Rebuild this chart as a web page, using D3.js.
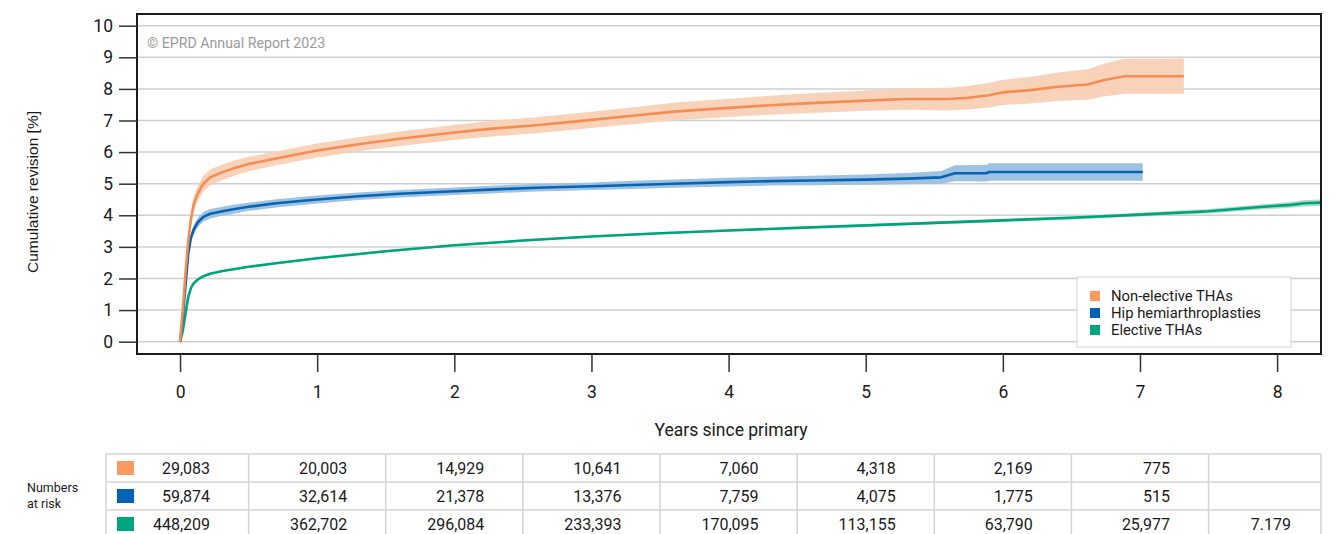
<!DOCTYPE html>
<html>
<head>
<meta charset="utf-8">
<script src="https://cdn.jsdelivr.net/npm/d3@7"></script>
<style>
  body { margin: 0; background: #fff; }
  text { font-family: Roboto, "DejaVu Sans", sans-serif; fill: #1a1a1a; }
</style>
</head>
<body>
<div id="chart"></div>
<script>
// cumulative revision curves
var years = [0, 1, 2, 3, 4, 5, 6, 7, 8];
var seriesNames = ["Non-elective THAs", "Hip hemiarthroplasties", "Elective THAs"];

var nonElecT = [0, 0.02, 0.04, 0.06, 0.08, 0.1, 0.13, 0.17, 0.22, 0.3, 0.4, 0.5, 0.7, 1.0, 1.3, 1.6, 2.0, 2.3, 2.6, 3.0, 3.3, 3.6, 4.0, 4.3, 4.6, 5.0, 5.3, 5.6, 5.75, 5.9, 6.0, 6.2, 6.4, 6.62, 6.74, 6.89, 7.32];
var nonElecV = [0, 1.0, 2.2, 3.2, 3.9, 4.35, 4.7, 5.0, 5.2, 5.35, 5.5, 5.62, 5.8, 6.05, 6.25, 6.42, 6.62, 6.75, 6.85, 7.02, 7.15, 7.28, 7.4, 7.48, 7.55, 7.63, 7.68, 7.68, 7.72, 7.8, 7.89, 7.96, 8.07, 8.14, 8.28, 8.4, 8.4];
var nonElecCI = [0, 0.1, 0.18, 0.22, 0.25, 0.25, 0.25, 0.25, 0.25, 0.25, 0.24, 0.23, 0.22, 0.22, 0.22, 0.23, 0.24, 0.25, 0.25, 0.26, 0.27, 0.28, 0.29, 0.3, 0.31, 0.32, 0.34, 0.36, 0.37, 0.39, 0.4, 0.42, 0.45, 0.48, 0.52, 0.55, 0.56];

var hemiT = [0, 0.02, 0.04, 0.06, 0.08, 0.1, 0.13, 0.17, 0.22, 0.3, 0.4, 0.5, 0.7, 1.0, 1.3, 1.6, 2.0, 2.3, 2.6, 3.0, 3.3, 3.6, 4.0, 4.3, 4.6, 5.0, 5.3, 5.55, 5.65, 5.88, 5.9, 7.02];
var hemiV = [0, 0.8, 1.8, 2.8, 3.3, 3.55, 3.78, 3.95, 4.05, 4.12, 4.2, 4.27, 4.38, 4.5, 4.6, 4.68, 4.76, 4.82, 4.87, 4.92, 4.96, 5.0, 5.05, 5.08, 5.1, 5.13, 5.16, 5.2, 5.33, 5.33, 5.37, 5.37];
var hemiCI = [0, 0.08, 0.12, 0.15, 0.15, 0.15, 0.15, 0.15, 0.15, 0.14, 0.14, 0.13, 0.13, 0.13, 0.12, 0.12, 0.12, 0.12, 0.12, 0.12, 0.13, 0.13, 0.14, 0.14, 0.15, 0.16, 0.18, 0.2, 0.25, 0.26, 0.28, 0.28];

var elecT = [0, 0.02, 0.04, 0.06, 0.08, 0.1, 0.13, 0.17, 0.22, 0.3, 0.4, 0.5, 0.7, 1.0, 1.5, 2.0, 2.5, 3.0, 3.5, 4.0, 4.5, 5.0, 5.5, 6.0, 6.5, 7.0, 7.5, 7.9, 8.1, 8.2, 8.32];
var elecV = [0, 0.35, 0.9, 1.42, 1.7, 1.85, 1.97, 2.07, 2.15, 2.23, 2.3, 2.37, 2.48, 2.64, 2.86, 3.05, 3.2, 3.33, 3.43, 3.52, 3.6, 3.68, 3.76, 3.84, 3.92, 4.02, 4.13, 4.27, 4.33, 4.38, 4.4];
var elecCI = [0, 0.02, 0.02, 0.03, 0.03, 0.03, 0.03, 0.03, 0.03, 0.03, 0.03, 0.03, 0.03, 0.03, 0.03, 0.03, 0.03, 0.03, 0.03, 0.03, 0.03, 0.04, 0.04, 0.05, 0.05, 0.06, 0.07, 0.08, 0.09, 0.1, 0.1];

// numbers at risk per year, text as printed
var riskNonElec = ["29,083", "20,003", "14,929", "10,641", "7,060", "4,318", "2,169", "775", ""];
var riskHemi = ["59,874", "32,614", "21,378", "13,376", "7,759", "4,075", "1,775", "515", ""];
var riskElec = ["448,209", "362,702", "296,084", "233,393", "170,095", "113,155", "63,790", "25,977", "7.179"];

(function() {
	var width = 1335, height = 534;
	var box = { left: 137, right: 1321, top: 14, bottom: 354 };

	var lineColors = ["#f68c52", "#0a63b0", "#00a47c"];
	var bandColors = ["#f9d0b6", "#98bfe1", "#a9dcc8"];
	var keyColors = ["#f99a5e", "#0062b0", "#00a67e"];

	var series = [
		{ t: nonElecT, v: nonElecV, ci: nonElecCI },
		{ t: hemiT, v: hemiV, ci: hemiCI },
		{ t: elecT, v: elecV, ci: elecCI }
	].map(function(s) {
		return s.t.map(function(t, i) { return { t: t, v: s.v[i], lo: s.v[i] - s.ci[i], hi: s.v[i] + s.ci[i] }; });
	});

	var svg = d3.select("#chart").append("svg")
		.attr("width", width)
		.attr("height", height);

	var xScale = d3.scaleLinear().domain([-0.314, 8.32]).range([box.left, box.right]);
	var yScale = d3.scaleLinear().domain([-0.39, 10.37]).range([box.bottom, box.top]);

	// gridlines
	svg.append("g").selectAll("line")
		.data(d3.range(0, 11))
		.enter().append("line")
		.attr("x1", box.left).attr("x2", box.right)
		.attr("y1", function(d) { return yScale(d); })
		.attr("y2", function(d) { return yScale(d); })
		.attr("stroke", "#cfcfcf")
		.attr("stroke-width", 1.5);

	svg.append("text")
		.attr("x", 147).attr("y", 47.5)
		.attr("font-size", 14.2)
		.style("fill", "#9a9a9a")
		.text("\u00a9 EPRD Annual Report 2023");

	svg.append("clipPath").attr("id", "plotclip")
		.append("rect")
		.attr("x", box.left).attr("y", box.top)
		.attr("width", box.right - box.left).attr("height", box.bottom - box.top);

	var plot = svg.append("g").attr("clip-path", "url(#plotclip)");

	var area = d3.area()
		.x(function(d) { return xScale(d.t); })
		.y0(function(d) { return yScale(d.lo); })
		.y1(function(d) { return yScale(d.hi); });

	var line = d3.line()
		.x(function(d) { return xScale(d.t); })
		.y(function(d) { return yScale(d.v); });

	// draw elective first so others sit on top
	[2, 1, 0].forEach(function(i) {
		plot.append("path")
			.attr("d", area(series[i]))
			.attr("fill", bandColors[i])
			.attr("opacity", 0.95);
	});
	[2, 1, 0].forEach(function(i) {
		plot.append("path")
			.attr("d", line(series[i]))
			.attr("fill", "none")
			.attr("stroke", lineColors[i])
			.attr("stroke-width", 2.6)
			.attr("stroke-linejoin", "round");
	});

	// frame
	svg.append("rect")
		.attr("x", box.left).attr("y", box.top)
		.attr("width", box.right - box.left).attr("height", box.bottom - box.top)
		.attr("fill", "none")
		.attr("stroke", "#1a1a1a")
		.attr("stroke-width", 2);

	// y axis, ticks outside the frame
	var yAxis = svg.append("g")
		.attr("transform", "translate(" + box.left + ",0)")
		.call(d3.axisLeft(yScale).tickValues(d3.range(0, 11)).tickSize(18).tickPadding(6));
	yAxis.select(".domain").remove();
	yAxis.selectAll(".tick line").attr("stroke", "#333").attr("stroke-width", 1.5);
	yAxis.selectAll(".tick text").attr("font-size", 17.5).attr("font-family", "Roboto, sans-serif").style("fill", "#1a1a1a");

	var xAxis = svg.append("g")
		.attr("transform", "translate(0," + box.bottom + ")")
		.call(d3.axisBottom(xScale).tickValues(years).tickSize(18).tickPadding(14));
	xAxis.select(".domain").remove();
	xAxis.selectAll(".tick line").attr("stroke", "#333").attr("stroke-width", 1.5);
	xAxis.selectAll(".tick text").attr("font-size", 17.5).attr("font-family", "Roboto, sans-serif").style("fill", "#1a1a1a");

	svg.append("text")
		.attr("x", 731).attr("y", 436)
		.attr("text-anchor", "middle")
		.attr("font-size", 17.5)
		.text("Years since primary");

	svg.append("text")
		.attr("transform", "translate(38,192) rotate(-90)")
		.attr("text-anchor", "middle")
		.attr("font-size", 15.5)
		.style("font-family", "'Liberation Sans', Arial, sans-serif")
		.text("Cumulative revision [%]");

	// legend
	var legend = svg.append("g");
	legend.append("rect")
		.attr("x", 1077).attr("y", 277)
		.attr("width", 214).attr("height", 70)
		.attr("fill", "#fff")
		.attr("stroke", "#d9d9d9")
		.attr("stroke-width", 1.2);
	var legendRow = d3.scaleLinear().domain([0, 2]).range([296, 330]);
	seriesNames.forEach(function(name, i) {
		legend.append("rect")
			.attr("x", 1090).attr("y", legendRow(i) - 5)
			.attr("width", 10).attr("height", 10)
			.attr("fill", keyColors[i]);
		legend.append("text")
			.attr("x", 1111).attr("y", legendRow(i) + 5)
			.attr("font-size", 14.8)
			.text(name);
	});

	// numbers at risk table
	var tableTop = 454, rowH = 28, tableLeft = 106;
	var risk = [riskNonElec, riskHemi, riskElec];
	var colEdges = [tableLeft].concat(years.slice(0, 8).map(function(t) { return xScale(t + 0.5); })).concat([box.right]);
	var table = svg.append("g");

	colEdges.forEach(function(cx) {
		table.append("line")
			.attr("x1", cx).attr("x2", cx)
			.attr("y1", tableTop).attr("y2", tableTop + rowH * 3 + 4)
			.attr("stroke", "#d4d4d4").attr("stroke-width", 1.5);
	});
	d3.range(0, 4).forEach(function(r) {
		table.append("line")
			.attr("x1", tableLeft).attr("x2", box.right)
			.attr("y1", tableTop + r * rowH).attr("y2", tableTop + r * rowH)
			.attr("stroke", "#d4d4d4").attr("stroke-width", 1.5);
	});

	risk.forEach(function(row, r) {
		var cy = tableTop + r * rowH + rowH / 2;
		table.append("rect")
			.attr("x", 117).attr("y", cy - 7)
			.attr("width", 17).attr("height", 14)
			.attr("fill", keyColors[r]);
		row.forEach(function(val, c) {
			var xr = Math.min(xScale(years[c]) + 30, colEdges[c + 1] - 30);
			table.append("text")
				.attr("x", xr).attr("y", cy + 5.5)
				.attr("text-anchor", "end")
				.attr("font-size", 16)
				.text(val);
		});
	});

	svg.append("text").attr("x", 27).attr("y", 492).attr("font-size", 12.5).text("Numbers");
	svg.append("text").attr("x", 27).attr("y", 508).attr("font-size", 12.5).text("at risk");
})();
</script>
</body>
</html>
